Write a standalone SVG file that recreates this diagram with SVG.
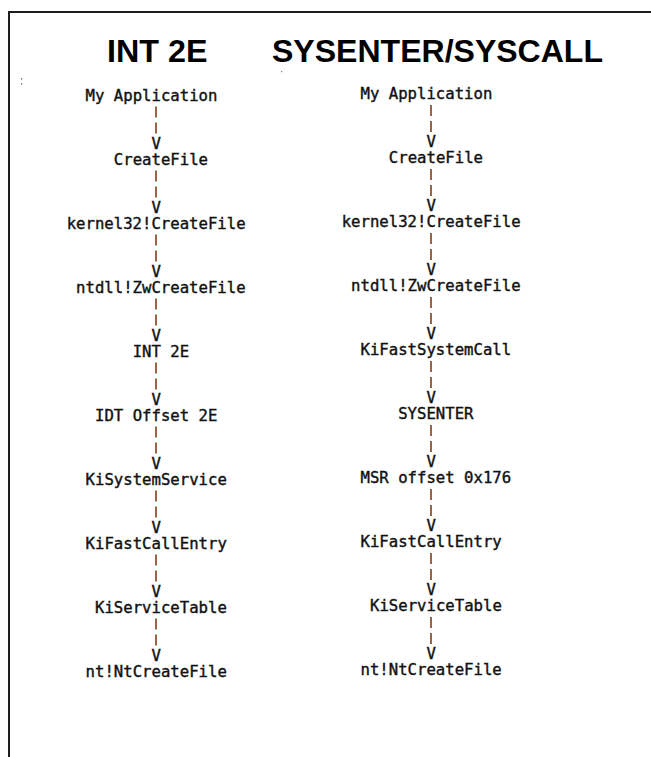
<svg xmlns="http://www.w3.org/2000/svg" width="651" height="757" viewBox="0 0 651 757">
  <style>
    .title { font-family: "Liberation Sans", Arial, sans-serif; font-weight: bold; font-size: 30.5px; fill: #000; }
    .node { font-family: "DejaVu Sans Mono", "Liberation Mono", monospace; font-size: 15.65px; fill: #111; stroke: #111; stroke-width: 0.4; }
    .arrow { font-family: "DejaVu Sans Mono", "Liberation Mono", monospace; font-size: 15.65px; fill: #111; stroke: #111; stroke-width: 0.4; }
    .bar { stroke: #8a4b26; stroke-width: 1.7; stroke-dasharray: 11 5; fill: none; }
    .frame { stroke: #1e1e1e; stroke-width: 2; fill: none; }
  </style>

  <rect width="651" height="757" fill="#fff"/>

  <!-- page frame (continues beyond the right and bottom edges) -->
  <path class="frame" d="M651 12 H9 V757"/>

  <!-- stray specks -->
  <rect x="21" y="78" width="1.2" height="1.6" fill="#777"/>
  <rect x="21" y="83" width="1.2" height="1.6" fill="#777"/>
  <rect x="281" y="71" width="1.2" height="1.2" fill="#777"/>

  <!-- column headings -->
  <text class="title" x="107" y="62" textLength="100.5" lengthAdjust="spacingAndGlyphs">INT 2E</text>
  <text class="title" x="272" y="62" textLength="331" lengthAdjust="spacingAndGlyphs">SYSENTER/SYSCALL</text>

  <!-- connectors: two bar rows and a V per step -->
  <g id="connectors">
    <g id="links-int2e">
      <path class="bar" d="M156 106.5 V133.5 M156 170.5 V197.5 M156 234.5 V261.5 M156 298.5 V325.5 M156 362.5 V389.5 M156 426.5 V453.5 M156 490.5 V517.5 M156 554.5 V581.5 M156 618.5 V645.5"/>
      <text class="arrow" x="151.5" y="148.5">V</text>
      <text class="arrow" x="151.5" y="212.5">V</text>
      <text class="arrow" x="151.5" y="276.5">V</text>
      <text class="arrow" x="151.5" y="340.5">V</text>
      <text class="arrow" x="151.5" y="404.5">V</text>
      <text class="arrow" x="151.5" y="468.5">V</text>
      <text class="arrow" x="151.5" y="532.5">V</text>
      <text class="arrow" x="151.5" y="596.5">V</text>
      <text class="arrow" x="151.5" y="660.5">V</text>
    </g>
    <g id="links-sysenter">
      <path class="bar" d="M431 105 V132 M431 169 V196 M431 233 V260 M431 297 V324 M431 361 V388 M431 425 V452 M431 489 V516 M431 553 V580 M431 617 V644"/>
      <text class="arrow" x="426.5" y="147">V</text>
      <text class="arrow" x="426.5" y="211">V</text>
      <text class="arrow" x="426.5" y="275">V</text>
      <text class="arrow" x="426.5" y="339">V</text>
      <text class="arrow" x="426.5" y="403">V</text>
      <text class="arrow" x="426.5" y="467">V</text>
      <text class="arrow" x="426.5" y="531">V</text>
      <text class="arrow" x="426.5" y="595">V</text>
      <text class="arrow" x="426.5" y="659">V</text>
    </g>
  </g>

  <!-- INT 2E path -->
  <g id="int2e-my-application"><text class="node" x="85.55" y="100.5">My Application</text></g>
  <g id="int2e-createfile"><text class="node" x="113.8" y="164.5">CreateFile</text></g>
  <g id="int2e-kernel32-createfile"><text class="node" x="66.7" y="228.5">kernel32!CreateFile</text></g>
  <g id="int2e-ntdll-zwcreatefile"><text class="node" x="76.1" y="292.5">ntdll!ZwCreateFile</text></g>
  <g id="int2e-int-2e"><text class="node" x="132.7" y="356.5">INT 2E</text></g>
  <g id="int2e-idt-offset"><text class="node" x="95" y="420.5">IDT Offset 2E</text></g>
  <g id="int2e-kisystemservice"><text class="node" x="85.55" y="484.5">KiSystemService</text></g>
  <g id="int2e-kifastcallentry"><text class="node" x="85.55" y="548.5">KiFastCallEntry</text></g>
  <g id="int2e-kiservicetable"><text class="node" x="95" y="612.5">KiServiceTable</text></g>
  <g id="int2e-ntcreatefile"><text class="node" x="85.55" y="676.5">nt!NtCreateFile</text></g>

  <!-- SYSENTER/SYSCALL path -->
  <g id="sys-my-application"><text class="node" x="360.5" y="99">My Application</text></g>
  <g id="sys-createfile"><text class="node" x="388.8" y="163">CreateFile</text></g>
  <g id="sys-kernel32-createfile"><text class="node" x="341.7" y="227">kernel32!CreateFile</text></g>
  <g id="sys-ntdll-zwcreatefile"><text class="node" x="351.1" y="291">ntdll!ZwCreateFile</text></g>
  <g id="sys-kifastsystemcall"><text class="node" x="360.5" y="355">KiFastSystemCall</text></g>
  <g id="sys-sysenter"><text class="node" x="398.2" y="419">SYSENTER</text></g>
  <g id="sys-msr-offset"><text class="node" x="360.5" y="483">MSR offset 0x176</text></g>
  <g id="sys-kifastcallentry"><text class="node" x="360.5" y="547">KiFastCallEntry</text></g>
  <g id="sys-kiservicetable"><text class="node" x="370" y="611">KiServiceTable</text></g>
  <g id="sys-ntcreatefile"><text class="node" x="360.5" y="675">nt!NtCreateFile</text></g>
</svg>
